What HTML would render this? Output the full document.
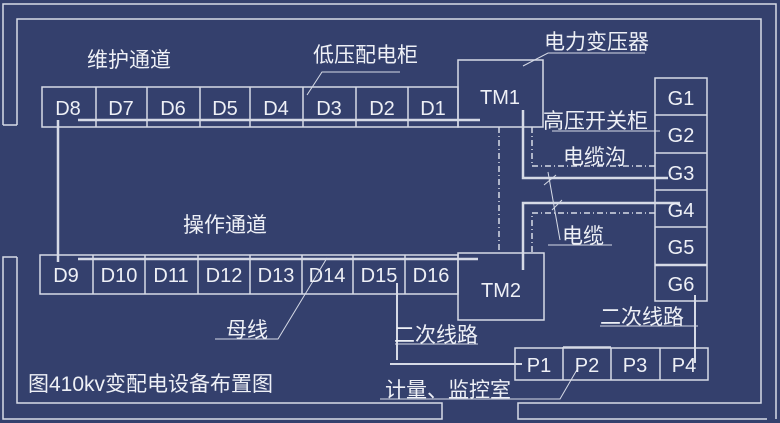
<!DOCTYPE html>
<html><head><meta charset="utf-8"><style>
html,body{margin:0;padding:0;background:#34406d;}
svg{display:block}
text{font-family:"Liberation Sans","Noto Sans CJK SC",sans-serif;fill:#eef0f6;}
</style></head><body>
<svg width="780" height="423" viewBox="0 0 780 423" xmlns="http://www.w3.org/2000/svg">
<rect width="780" height="423" fill="#34406d"/>
<g stroke="#d6dae6" stroke-width="1.5" fill="none">
<polyline points="3,125 3,4 776,4 776,419"/>
<polyline points="17,125 17,19 761,19 761,403 518,403 518,419 767,419"/>
<line x1="3" y1="125" x2="17" y2="125"/>
<polyline points="17,257 3,257 3,419 442,419 442,403 17,403 17,257"/>
<rect x="42" y="87" width="416" height="40"/>
<line x1="96" y1="87" x2="96" y2="127"/><line x1="147" y1="87" x2="147" y2="127"/>
<line x1="200" y1="87" x2="200" y2="127"/><line x1="250" y1="87" x2="250" y2="127"/>
<line x1="303" y1="87" x2="303" y2="127"/><line x1="356" y1="87" x2="356" y2="127"/>
<line x1="408" y1="87" x2="408" y2="127"/>
<rect x="458" y="60" width="85" height="67"/>
<line x1="78" y1="120" x2="480" y2="120" stroke-width="2.5"/>
<rect x="40" y="255" width="418" height="39"/>
<line x1="93" y1="255" x2="93" y2="294"/><line x1="145" y1="255" x2="145" y2="294"/>
<line x1="198" y1="255" x2="198" y2="294"/><line x1="250" y1="255" x2="250" y2="294"/>
<line x1="302" y1="255" x2="302" y2="294"/><line x1="353" y1="255" x2="353" y2="294"/>
<line x1="405" y1="255" x2="405" y2="294"/>
<rect x="458" y="253" width="86" height="67"/>
<line x1="78" y1="259" x2="478" y2="259" stroke-width="2.5"/>
<line x1="58" y1="120" x2="58" y2="262" stroke-width="2.5"/>
<rect x="655" y="78" width="52" height="223"/>
<line x1="655" y1="115" x2="707" y2="115"/><line x1="655" y1="153" x2="707" y2="153"/>
<line x1="655" y1="190" x2="707" y2="190"/><line x1="655" y1="227" x2="707" y2="227"/>
<line x1="655" y1="265" x2="707" y2="265" stroke-width="2.5"/>
<polyline points="523,110 523,178 668,178" stroke-width="2.5"/>
<polyline points="523,270 523,203 680,203" stroke-width="2.5"/>
<polyline points="532,127 532,166 655,166" stroke-dasharray="6,3,1,3"/>
<polyline points="532,252 532,213 655,213" stroke-dasharray="6,3,1,3"/>
<line x1="499" y1="127" x2="499" y2="253" stroke-dasharray="6,3,1,3"/>
<line x1="548" y1="172" x2="560" y2="240" stroke-width="1"/>
<line x1="548" y1="245" x2="612" y2="245" stroke-width="1"/>
<line x1="544" y1="185" x2="556" y2="175" stroke-width="1"/>
<line x1="552" y1="210" x2="562" y2="200" stroke-width="1"/>
<rect x="515" y="348" width="193" height="32"/>
<line x1="563" y1="347" x2="563" y2="380"/><line x1="611" y1="348" x2="611" y2="380"/>
<line x1="660" y1="348" x2="660" y2="380"/><line x1="563" y1="347" x2="611" y2="347"/>
<line x1="695" y1="295" x2="695" y2="363" stroke-width="2"/>
<line x1="397" y1="283" x2="397" y2="360" stroke-width="2"/>
<line x1="390" y1="364" x2="522" y2="364" stroke-width="2"/>
<polyline points="307,95 322,72 400,72" stroke-width="1"/>
<polyline points="523,66 548,53 645,53" stroke-width="1"/>
<line x1="552" y1="131" x2="660" y2="131" stroke-width="1"/>
<polyline points="215,339 278,339 327,258" stroke-width="1"/>
<line x1="395" y1="344" x2="478" y2="344" stroke-width="1"/>
<line x1="600" y1="326" x2="698" y2="326" stroke-width="1"/>
<polyline points="380,399 560,399 578,368" stroke-width="1"/>
</g>
<g font-size="20" text-anchor="middle">
<text x="68" y="115">D8</text><text x="121" y="115">D7</text><text x="173" y="115">D6</text>
<text x="225" y="115">D5</text><text x="276" y="115">D4</text><text x="329" y="115">D3</text>
<text x="382" y="115">D2</text><text x="433" y="115">D1</text>
<text x="500" y="104">TM1</text><text x="501" y="297">TM2</text>
<text x="66" y="282">D9</text><text x="119" y="282">D10</text><text x="171" y="282">D11</text>
<text x="224" y="282">D12</text><text x="276" y="282">D13</text><text x="327" y="282">D14</text>
<text x="379" y="282">D15</text><text x="431" y="282">D16</text>
<text x="681" y="105">G1</text><text x="681" y="142">G2</text><text x="681" y="180">G3</text>
<text x="681" y="217">G4</text><text x="681" y="254">G5</text><text x="681" y="291">G6</text>
<text x="539" y="372">P1</text><text x="587" y="372">P2</text><text x="635" y="372">P3</text><text x="684" y="372">P4</text>
</g>
<g font-size="21">
<text x="87" y="67">维护通道</text>
<text x="313" y="62">低压配电柜</text>
<text x="544" y="49">电力变压器</text>
<text x="543" y="128">高压开关柜</text>
<text x="563" y="164">电缆沟</text>
<text x="562" y="243">电缆</text>
<text x="183" y="232">操作通道</text>
<text x="226" y="337">母线</text>
<text x="394" y="342">二次线路</text>
<text x="600" y="324">二次线路</text>
<text x="385" y="397">计量、监控室</text>
<text x="28" y="391" font-size="21">图410kv变配电设备布置图</text>
</g>
</svg>
</body></html>
